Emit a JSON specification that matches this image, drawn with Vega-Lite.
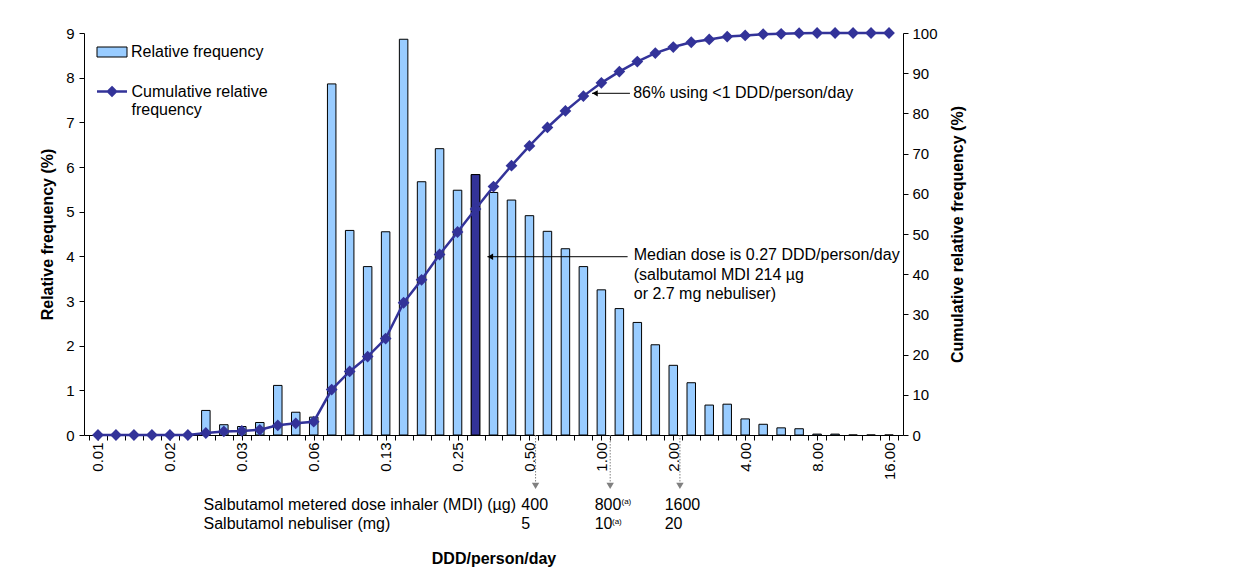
{
  "$schema": "https://vega.github.io/schema/vega-lite/v6.json",
  "width": 819,
  "height": 402,
  "autosize": {"type": "none"},
  "padding": {"left": 84, "top": 33, "right": 335, "bottom": 141},
  "background": "white",
  "config": {
    "font": "Liberation Sans",
    "view": {"stroke": null},
    "axis": {
      "labelColor": "black", "titleColor": "black", "domainColor": "black", "tickColor": "black",
      "labelFont": "Liberation Sans", "titleFont": "Liberation Sans", "grid": false,
      "labelFontSize": 15, "titleFontSize": 16, "titleFontWeight": "bold", "tickSize": 5, "domainWidth": 1, "tickWidth": 1
    },
    "legend": {"labelFont": "Liberation Sans", "labelFontSize": 16, "labelColor": "black"}
  },
  "datasets": {
    "freq": [
      {"bin": 0, "rel": 0, "cum": 0},
      {"bin": 1, "rel": 0, "cum": 0},
      {"bin": 2, "rel": 0, "cum": 0},
      {"bin": 3, "rel": 0, "cum": 0},
      {"bin": 4, "rel": 0, "cum": 0},
      {"bin": 5, "rel": 0, "cum": 0},
      {"bin": 6, "rel": 0.55, "cum": 0.5},
      {"bin": 7, "rel": 0.23, "cum": 0.9},
      {"bin": 8, "rel": 0.19, "cum": 1.0},
      {"bin": 9, "rel": 0.28, "cum": 1.3},
      {"bin": 10, "rel": 1.11, "cum": 2.4},
      {"bin": 11, "rel": 0.51, "cum": 2.9},
      {"bin": 12, "rel": 0.40, "cum": 3.3},
      {"bin": 13, "rel": 7.86, "cum": 11.3},
      {"bin": 14, "rel": 4.58, "cum": 15.8},
      {"bin": 15, "rel": 3.77, "cum": 19.5},
      {"bin": 16, "rel": 4.55, "cum": 24.0},
      {"bin": 17, "rel": 8.86, "cum": 32.9},
      {"bin": 18, "rel": 5.67, "cum": 38.6},
      {"bin": 19, "rel": 6.41, "cum": 44.9},
      {"bin": 20, "rel": 5.48, "cum": 50.5},
      {"bin": 21, "rel": 5.83, "cum": 56.2},
      {"bin": 22, "rel": 5.43, "cum": 61.8},
      {"bin": 23, "rel": 5.26, "cum": 67.0},
      {"bin": 24, "rel": 4.91, "cum": 71.9},
      {"bin": 25, "rel": 4.56, "cum": 76.5},
      {"bin": 26, "rel": 4.17, "cum": 80.6},
      {"bin": 27, "rel": 3.77, "cum": 84.3},
      {"bin": 28, "rel": 3.25, "cum": 87.6},
      {"bin": 29, "rel": 2.83, "cum": 90.4},
      {"bin": 30, "rel": 2.52, "cum": 92.9},
      {"bin": 31, "rel": 2.02, "cum": 95.0},
      {"bin": 32, "rel": 1.56, "cum": 96.5},
      {"bin": 33, "rel": 1.17, "cum": 97.7},
      {"bin": 34, "rel": 0.67, "cum": 98.4},
      {"bin": 35, "rel": 0.69, "cum": 99.1},
      {"bin": 36, "rel": 0.36, "cum": 99.4},
      {"bin": 37, "rel": 0.24, "cum": 99.7},
      {"bin": 38, "rel": 0.16, "cum": 99.8},
      {"bin": 39, "rel": 0.14, "cum": 99.95},
      {"bin": 40, "rel": 0.02, "cum": 100},
      {"bin": 41, "rel": 0.02, "cum": 100},
      {"bin": 42, "rel": 0, "cum": 100},
      {"bin": 43, "rel": 0, "cum": 100},
      {"bin": 44, "rel": 0, "cum": 100}
    ],
    "arrows": [
      {"x": 27.48, "x2": 29.59, "y": 85.0},
      {"x": 21.66, "x2": 29.46, "y": 44.35}
    ],
    "guides": [
      {"x": 24.34, "y": 0, "y2": -12.4},
      {"x": 28.49, "y": 0, "y2": -12.4},
      {"x": 32.37, "y": 0, "y2": -12.4}
    ],
    "notes": [
      {"text": "86% using <1 DDD/person/day", "x": 29.77, "y": 85.0},
      {"text": "Median dose is 0.27 DDD/person/day", "x": 29.8, "y": 44.8},
      {"text": "(salbutamol MDI 214 µg", "x": 29.8, "y": 39.9},
      {"text": "or 2.7 mg nebuliser)", "x": 29.8, "y": 35.1},
      {"text": "Salbutamol metered dose inhaler (MDI) (µg)", "x": 5.87, "y": -17.3},
      {"text": "Salbutamol nebuliser (mg)", "x": 5.87, "y": -22.2},
      {"text": "400", "x": 23.55, "y": -17.3},
      {"text": "5", "x": 23.55, "y": -22.2},
      {"text": "800", "x": 27.63, "y": -17.3},
      {"text": "10", "x": 27.63, "y": -22.2},
      {"text": "1600", "x": 31.52, "y": -17.3},
      {"text": "20", "x": 31.52, "y": -22.2}
    ],
    "sups": [
      {"text": "(a)", "x": 29.12, "y": -16.6},
      {"text": "(a)", "x": 28.59, "y": -21.6}
    ]
  },
  "data": {"name": "freq"},
  "resolve": {"scale": {"y": "independent"}, "axis": {"x": "independent"}},
  "layer": [
    {
      "mark": {"type": "bar", "width": 8.5, "stroke": "black", "strokeWidth": 1},
      "encoding": {
        "x": {
          "field": "bin", "type": "quantitative",
          "scale": {"domain": [-0.5, 44.5], "nice": false, "zero": false},
          "axis": {
            "values": [-0.5,0,0.5,1.5,2.5,3.5,4,4.5,5.5,6.5,7.5,8,8.5,9.5,10.5,11.5,12,12.5,13.5,14.5,15.5,16,16.5,17.5,18.5,19.5,20,20.5,21.5,22.5,23.5,24,24.5,25.5,26.5,27.5,28,28.5,29.5,30.5,31.5,32,32.5,33.5,34.5,35.5,36,36.5,37.5,38.5,39.5,40,40.5,41.5,42.5,43.5,44,44.5],
            "labelExpr": "datum.value % 4 === 0 ? ['0.01','0.02','0.03','0.06','0.13','0.25','0.50','1.00','2.00','4.00','8.00','16.00'][datum.value / 4] : ''",
            "labelAngle": 270,
            "labelPadding": 2,
            "labelOverlap": false,
            "labelFlush": false,
            "labelBound": false,
            "title": "DDD/person/day",
            "titleY": 123,
            "titleBaseline": "middle",
            "encode": {"ticks": {"update": {"opacity": {"signal": "datum.value % 1 === 0 ? 0 : 1"}}}}
          }
        },
        "y": {
          "field": "rel", "type": "quantitative",
          "scale": {"domain": [0, 9], "nice": false},
          "axis": {
            "orient": "left",
            "values": [0,1,2,3,4,5,6,7,8,9],
            "labelPadding": 5,
            "title": "Relative frequency (%)",
            "titleAngle": 270,
            "titleX": -37,
            "titleY": 201,
            "titleBaseline": "middle",
            "titleAlign": "center"
          }
        },
        "color": {
          "datum": "Relative frequency", "type": "nominal",
          "scale": {"range": ["#99CCFF"]},
          "legend": {
            "title": null, "orient": "none", "legendX": 17.5, "legendY": 8.5, "padding": 0,
            "symbolType": "M-1.5,-0.5H1.5V0.5H-1.5Z", "symbolSize": 400,
            "symbolStrokeColor": "black", "symbolStrokeWidth": 1, "symbolOpacity": 1,
            "labelOffset": 8.5
          }
        }
      }
    },
    {
      "transform": [{"filter": "datum.bin === 21"}],
      "mark": {"type": "bar", "width": 8.5, "stroke": "black", "strokeWidth": 1, "fill": "#333399"},
      "encoding": {
        "x": {"field": "bin", "type": "quantitative", "axis": null},
        "y": {"field": "rel", "type": "quantitative", "scale": {"domain": [0, 9], "nice": false}, "axis": null}
      }
    },
    {
      "mark": {"type": "line", "strokeWidth": 2.5, "point": {"filled": true, "shape": "diamond", "size": 80, "color": "#333399"}},
      "encoding": {
        "x": {"field": "bin", "type": "quantitative", "axis": null},
        "y": {
          "field": "cum", "type": "quantitative",
          "scale": {"domain": [0, 100], "nice": false},
          "axis": {
            "orient": "right",
            "values": [0,10,20,30,40,50,60,70,80,90,100],
            "labelPadding": 4,
            "title": "Cumulative relative frequency (%)",
            "titleAngle": 270,
            "titleX": 54,
            "titleY": 201,
            "titleBaseline": "middle",
            "titleAlign": "center"
          }
        },
        "stroke": {
          "datum": "Cumulative relative frequency", "type": "nominal",
          "scale": {"range": ["#333399"]},
          "legend": {
            "title": null, "orient": "none", "legendX": 16.5, "legendY": 47, "padding": 0,
            "symbolType": "M-1.5,0H1.5M0,-0.4L0.4,0L0,0.4L-0.4,0Z", "symbolSize": 400,
            "symbolStrokeColor": "#333399", "symbolFillColor": "#333399", "symbolStrokeWidth": 2.5,
            "labelOffset": 8,
            "labelExpr": "['Cumulative relative', 'frequency']"
          }
        }
      }
    },
    {
      "data": {"name": "arrows"},
      "mark": {"type": "rule", "color": "black", "strokeWidth": 1},
      "encoding": {
        "x": {"field": "x", "type": "quantitative", "axis": null},
        "x2": {"field": "x2"},
        "y": {"field": "y", "type": "quantitative", "scale": {"domain": [0, 100], "nice": false}, "axis": null}
      }
    },
    {
      "data": {"name": "arrows"},
      "mark": {"type": "point", "shape": "triangle-left", "filled": true, "color": "black", "size": 40, "opacity": 1, "xOffset": 3},
      "encoding": {
        "x": {"field": "x", "type": "quantitative", "axis": null},
        "y": {"field": "y", "type": "quantitative", "scale": {"domain": [0, 100], "nice": false}, "axis": null}
      }
    },
    {
      "data": {"name": "guides"},
      "mark": {"type": "rule", "color": "#808080", "strokeWidth": 1, "strokeDash": [1.5, 1.5]},
      "encoding": {
        "x": {"field": "x", "type": "quantitative", "axis": null},
        "y": {"field": "y", "type": "quantitative", "scale": {"domain": [0, 100], "nice": false}, "axis": null},
        "y2": {"field": "y2"}
      }
    },
    {
      "data": {"name": "guides"},
      "mark": {"type": "point", "shape": "triangle-down", "filled": true, "color": "#808080", "size": 55, "opacity": 1, "yOffset": 1},
      "encoding": {
        "x": {"field": "x", "type": "quantitative", "axis": null},
        "y": {"field": "y2", "type": "quantitative", "scale": {"domain": [0, 100], "nice": false}, "axis": null}
      }
    },
    {
      "data": {"name": "notes"},
      "mark": {"type": "text", "align": "left", "baseline": "middle", "fontSize": 16, "color": "black", "font": "Liberation Sans"},
      "encoding": {
        "x": {"field": "x", "type": "quantitative", "axis": null},
        "y": {"field": "y", "type": "quantitative", "scale": {"domain": [0, 100], "nice": false}, "axis": null},
        "text": {"field": "text"}
      }
    },
    {
      "data": {"name": "sups"},
      "mark": {"type": "text", "align": "left", "baseline": "middle", "fontSize": 8, "color": "black", "font": "Liberation Sans"},
      "encoding": {
        "x": {"field": "x", "type": "quantitative", "axis": null},
        "y": {"field": "y", "type": "quantitative", "scale": {"domain": [0, 100], "nice": false}, "axis": null},
        "text": {"field": "text"}
      }
    }
  ]
}
